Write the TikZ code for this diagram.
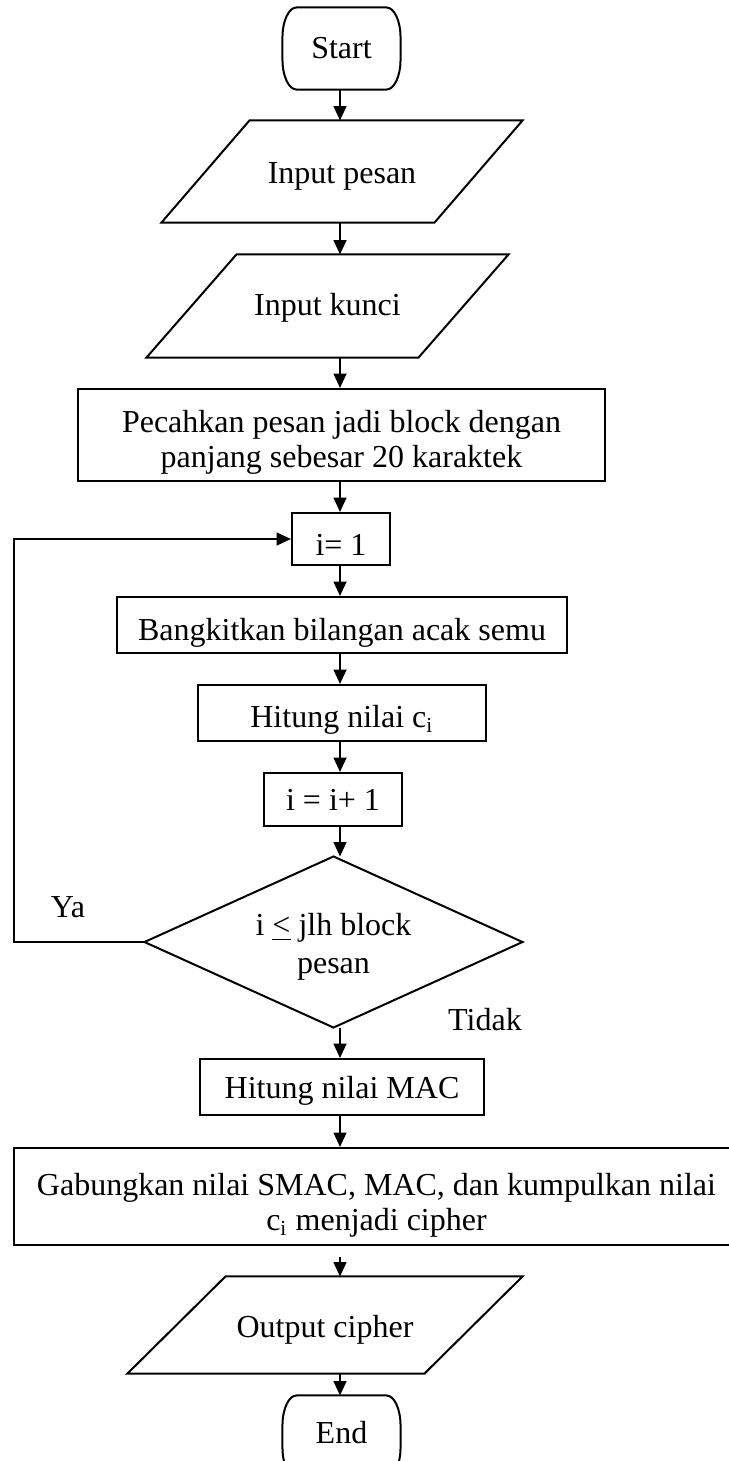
\documentclass[tikz,border=0pt]{standalone}
\usepackage{fontspec}
\setmainfont{Liberation Serif}
\usetikzlibrary{arrows.meta,calc}
% one drawing unit = 0.375pt
\def\PX{*0.375pt}
% invisible strut that makes a first line taller
\newcommand{\tallline}[1]{\rule{0pt}{#1}}
\tikzset{
  line/.style={line width=0.75pt, line join=miter},
  arr/.style={line, -{Triangle[length=5.4pt,width=4.8pt]}},
  ghost/.style={inner sep=0pt, align=center, font=\fontsize{12}{13.1}\selectfont},
  procbox/.style={ghost, draw, line width=0.75pt},
  lbl/.style={inner sep=0pt, font=\fontsize{12}{13.1}\selectfont},
  % taller first line: sets the text a little lower inside its shape
  txtdrop/.style={execute at begin node={\tallline{#1}}},
  terminal/.style={line},
}
% terminal outline: flat top and bottom, rounded sides
\newcommand{\termpath}[1]{%
  \draw[terminal] ([xshift=14\PX]#1.north west) -- ([xshift=-14\PX]#1.north east)
    arc[start angle=90, end angle=0, x radius=14\PX, y radius=30\PX]
    -- ([yshift=30\PX]#1.south east)
    arc[start angle=0, end angle=-90, x radius=14\PX, y radius=30\PX]
    -- ([xshift=14\PX]#1.south west)
    arc[start angle=270, end angle=180, x radius=14\PX, y radius=30\PX]
    -- ([yshift=-30\PX]#1.north west)
    arc[start angle=180, end angle=90, x radius=14\PX, y radius=30\PX] -- cycle;}
% input/output outline: parallelogram leaning right
\newcommand{\iopath}[2]{%
  \draw[line] ([xshift=#2\PX]#1.north west) -- (#1.north east)
    -- ([xshift=-#2\PX]#1.south east) -- (#1.south west) -- cycle;}
\begin{document}
\begin{tikzpicture}[x=0.375pt, y=-0.375pt]
\path[use as bounding box] (0,0) rectangle (729,1461);
\clip (0,0) rectangle (729,1461);

% main arrow column and loop column
\coordinate (col) at (340,0);
\coordinate (loop) at (14,0);

% start
\node[ghost, minimum width=117\PX, minimum height=81\PX] (start) at (341.5,48.5) {Start};
\termpath{start}

% inputs
\node[ghost, txtdrop=11.2pt, minimum width=360\PX, minimum height=101\PX] (pesan) at (342,171.5) {Input pesan};
\iopath{pesan}{88}
\node[ghost, txtdrop=9.7pt, minimum width=361\PX, minimum height=102\PX] (kunci) at (327.5,306) {Input kunci};
\iopath{kunci}{90}

% processing
\node[procbox, minimum width=527\PX, minimum height=92\PX] (pecah) at (341.5,435)
  {\tallline{13.8pt}Pecahkan pesan jadi block dengan\\panjang sebesar 20 karaktek};
\node[procbox, txtdrop=12.7pt, minimum width=98\PX, minimum height=52\PX] (init) at (341,539) {i= 1};
\node[procbox, txtdrop=14.2pt, minimum width=450\PX, minimum height=56\PX] (bangkit) at (342,625)
  {Bangkitkan bilangan acak semu};
\node[procbox, txtdrop=13.45pt, minimum width=288\PX, minimum height=56\PX] (hitc) at (342,713)
  {Hitung nilai c\textsubscript{i}};
\node[procbox, minimum width=138\PX, minimum height=53\PX] (incr) at (333,799.5) {i = i+ 1};

% decision
\node[ghost, minimum width=377\PX, minimum height=170\PX,
      font=\fontsize{12}{14.2}\selectfont] (cond) at (333.5,942)
  {\tallline{11.95pt}i \underline{<} jlh block\\pesan};
\draw[line] (cond.north) -- (cond.east) -- (cond.south) -- (cond.west) -- cycle;
\node[lbl] (ya) at (68,907) {Ya};
\node[lbl] (tidak) at (485,1020) {Tidak};

% finishing
\node[procbox, txtdrop=11.2pt, minimum width=284\PX, minimum height=56\PX] (mac) at (342,1087) {Hitung nilai MAC};
\node[procbox, minimum width=725\PX, minimum height=97\PX] (gab) at (376.5,1196.5)
  {\tallline{14.95pt}Gabungkan nilai SMAC, MAC, dan kumpulkan nilai\\c\textsubscript{i} menjadi cipher};
\node[ghost, txtdrop=11.95pt, minimum width=394\PX, minimum height=96\PX] (out) at (325,1325) {Output cipher};
\iopath{out}{98}
\node[ghost, text depth=3pt, minimum width=117\PX, minimum height=81\PX] (end) at (341.5,1436.5) {End};
\termpath{end}

% connectors
\draw[arr] (start.south -| col) -- (pesan.north -| col);
\draw[arr] (pesan.south -| col) -- (kunci.north -| col);
\draw[arr] (kunci.south -| col) -- (pecah.north -| col);
\draw[arr] (pecah.south -| col) -- (init.north -| col);
\draw[arr] (init.south -| col) -- (bangkit.north -| col);
\draw[arr] (bangkit.south -| col) -- (hitc.north -| col);
\draw[arr] (hitc.south -| col) -- (incr.north -| col);
\draw[arr] (incr.south -| col) -- (cond.north -| col);
\draw[arr] (cond.south -| col) -- (mac.north -| col);
\draw[arr] (mac.south -| col) -- (gab.north -| col);
\draw[arr, shorten <=4pt] (gab.south -| col) -- (out.north -| col);
\draw[arr] (out.south -| col) -- (end.north -| col);
\draw[arr] (cond.west) -- (cond.west -| loop) |- (init.west);
\end{tikzpicture}
\end{document}
